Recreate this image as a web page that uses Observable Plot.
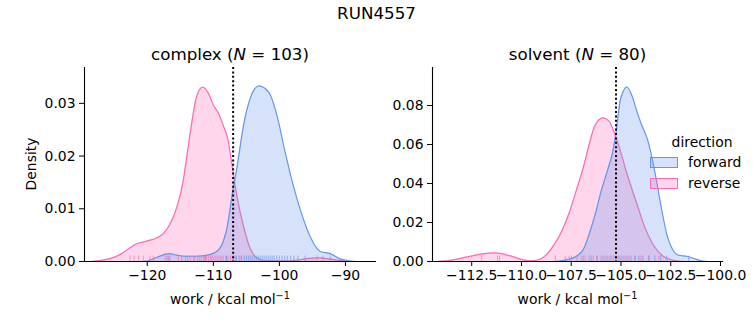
<!DOCTYPE html>
<html>
<head>
<meta charset="utf-8">
<script src="https://cdn.jsdelivr.net/npm/d3@7"></script>
<script src="https://cdn.jsdelivr.net/npm/@observablehq/plot@0.6"></script>
<style>
  body { margin: 0; background: #fff; font-family: "DejaVu Sans", sans-serif; }
  #fig { position: relative; width: 753px; height: 325px; overflow: hidden; }
  #fig svg text { font-size: 13.9px; font-family: "DejaVu Sans"; fill: #000; }
  .abs { position: absolute; white-space: nowrap; color: #000; }
  .ctr { transform: translate(-50%, -50%); }
  sup { font-size: 70%; vertical-align: 0; position: relative; top: -0.55em; }
  .sw { position: absolute; width: 26px; height: 9px; }
</style>
</head>
<body>
<div id="fig"></div>
<script>
// ---------- data ----------
const suptitle = "RUN4557";
const panelNames = ["complex", "solvent"];
const panelN = [103, 80];
const directions = ["forward", "reverse"];

// complex: KDE curve (work, density)
const complexForwardWork = [-121, -120, -118.5, -116.7, -115.5, -114.4, -112.5, -110.9, -109.3, -108.5, -107.9, -107.2, -106.4, -105.4, -104.4, -103.1, -101.6, -100.3, -99.3, -98.1, -96.8, -95.3, -93.8, -92.3, -90.8, -89.2, -88.5];
const complexForwardDensity = [0, 0.0001, 0.0008, 0.0015, 0.0012, 0.0010, 0.0010, 0.0012, 0.0021, 0.0038, 0.0065, 0.0122, 0.0180, 0.0260, 0.0310, 0.0333, 0.0321, 0.0274, 0.0217, 0.0154, 0.0097, 0.0046, 0.0019, 0.0015, 0.0005, 0.0001, 0];
const complexReverseWork = [-128.5, -127, -125.5, -124, -122.6, -121.5, -120, -118.5, -117.5, -116.4, -115.4, -114.6, -114.0, -113.3, -112.6, -111.6, -110.7, -110.0, -109.3, -108.5, -107.8, -107.2, -106.4, -105.4, -104.4, -103.3, -102, -99, -97, -95.5, -94, -92.5, -91, -89.5];
const complexReverseDensity = [0, 0.0002, 0.0006, 0.0014, 0.0026, 0.0034, 0.0039, 0.0045, 0.0054, 0.0075, 0.0108, 0.0150, 0.0200, 0.0260, 0.0310, 0.0331, 0.0318, 0.0297, 0.0283, 0.0258, 0.0232, 0.0185, 0.0122, 0.0065, 0.0024, 0.0006, 0.0001, 0.0001, 0.0003, 0.0006, 0.0007, 0.0005, 0.0002, 0];

// solvent
const solventForwardWork = [-108.3, -107.7, -107.2, -106.9, -106.6, -106.3, -106.0, -105.7, -105.4, -105.25, -105.05, -104.9, -104.7, -104.45, -104.2, -104.0, -103.65, -103.3, -103.0, -102.7, -102.4, -102.1, -101.7, -101.3, -100.9, -100.6];
const solventForwardDensity = [0, 0.001, 0.003, 0.006, 0.014, 0.024, 0.036, 0.046, 0.057, 0.066, 0.082, 0.087, 0.0895, 0.085, 0.077, 0.071, 0.062, 0.046, 0.029, 0.014, 0.006, 0.0032, 0.0027, 0.0014, 0.0002, 0];
const solventReverseWork = [-114.2, -113.6, -112.8, -112.0, -111.4, -110.9, -110.4, -109.9, -109.5, -109.1, -108.8, -108.4, -108.0, -107.6, -107.2, -106.9, -106.6, -106.3, -105.9, -105.6, -105.3, -105.1, -104.7, -104.2, -103.8, -103.3, -102.8, -102.3, -101.8];
const solventReverseDensity = [0, 0.0006, 0.0022, 0.0038, 0.0044, 0.0038, 0.0024, 0.0008, 0.0003, 0.001, 0.003, 0.008, 0.015, 0.025, 0.038, 0.048, 0.060, 0.070, 0.0737, 0.072, 0.065, 0.059, 0.045, 0.0295, 0.0175, 0.0073, 0.0022, 0.0005, 0];

// rug (individual work values, read approximately)
const complexForwardRug = [-117.0, -116.6, -111.2, -108.0, -106.9, -106.5, -106.1, -105.7, -105.3, -105.0, -104.7, -104.4, -104.1, -103.8, -103.5, -103.2, -102.9, -102.6, -102.3, -102.0, -101.7, -101.4, -101.1, -100.8, -100.4, -100.0, -99.6, -99.2, -98.8, -98.3, -97.8, -97.2, -96.1, -92.3];
const complexReverseRug = [-122.6, -122.0, -121.3, -120.6, -119.6, -119.1, -117.3, -116.8, -115.3, -114.8, -114.2, -113.9, -113.5, -113.0, -112.8, -112.4, -112.1, -111.8, -111.5, -111.3, -111.0, -110.7, -110.4, -110.2, -109.9, -109.6, -109.3, -109.0, -108.8, -108.5, -108.1, -107.8, -107.4, -107.1, -106.6, -105.8, -94.3, -93.4];
const solventForwardRug = [-107.5, -106.9, -106.5, -106.2, -105.9, -105.7, -105.5, -105.3, -105.1, -104.9, -104.7, -104.5, -104.3, -104.1, -103.9, -103.6, -103.3, -103.0, -102.7, -101.6];
const solventReverseRug = [-112.0, -111.2, -111.1, -108.3, -107.8, -107.6, -107.2, -107.0, -106.8, -106.6, -106.4, -106.2, -106.0, -105.8, -105.6, -105.4, -105.2, -105.0, -104.8, -104.6, -104.3, -104.0, -103.6, -103.1];

// dotted reference lines
const complexRefLine = -107.0;
const solventRefLine = -105.25;

// axes
const complexXDomain = [-129.5, -85.3];
const complexYDomain = [0, 0.0368];
const complexXTicks = [-120, -110, -100, -90];
const complexYTicks = [0, 0.01, 0.02, 0.03];
const solventXDomain = [-114.47, -99.85];
const solventYDomain = [0, 0.0995];
const solventXTicks = [-112.5, -110, -107.5, -105, -102.5, -100];
const solventYTicks = [0, 0.02, 0.04, 0.06, 0.08];

const xLabel = "work / kcal mol";
const yLabel = "Density";

// ---------- styles ----------
const colors = { forward: "#6495ED", reverse: "#FF69B4" };
const FONT = "DejaVu Sans";

const toRows = (xs, ys) => xs.map((x, i) => ({ x, d: ys[i] }));

function panel({ left, width, mL, mR, xDomain, yDomain, xTicks, yTicks, xFmt, curves, rugs, refLine }) {
  const rugH = yDomain[1] * 0.028;
  const marks = [];
  // reverse drawn first, forward on top (seaborn order)
  for (const dir of ["reverse", "forward"]) {
    const rows = curves[dir];
    marks.push(Plot.areaY(rows, { x: "x", y: "d", fill: colors[dir], fillOpacity: 0.27, curve: "monotone-x" }));
    marks.push(Plot.lineY(rows, { x: "x", y: "d", stroke: colors[dir], strokeWidth: 1.2, curve: "monotone-x" }));
  }
  for (const dir of ["reverse", "forward"]) {
    marks.push(Plot.ruleX(rugs[dir], { x: d => d, y1: 0, y2: rugH, stroke: colors[dir], strokeOpacity: 0.65, strokeWidth: 1 }));
  }
  marks.push(Plot.ruleX([refLine], { stroke: "black", strokeWidth: 2, strokeDasharray: "2,2.4" }));
  marks.push(Plot.ruleY([yDomain[0]], { stroke: "black", strokeWidth: 1.1 }));
  marks.push(Plot.ruleX([xDomain[0]], { stroke: "black", strokeWidth: 1.1 }));
  marks.push(Plot.axisX({ ticks: xTicks, tickFormat: xFmt, tickSize: 5, tickPadding: 4, label: null }));
  marks.push(Plot.axisY({ ticks: yTicks, tickFormat: d3.format(".2f"), tickSize: 5, tickPadding: 4, label: null }));
  const svg = Plot.plot({
    width, height: 325,
    marginLeft: mL, marginRight: mR, marginTop: 67, marginBottom: 64,
    x: { domain: xDomain },
    y: { domain: yDomain },
    style: { fontFamily: FONT, fontSize: "13.9px", color: "black", background: "transparent", overflow: "visible" },
    marks
  });
  svg.style.position = "absolute";
  svg.style.left = left + "px";
  svg.style.top = "0px";
  return svg;
}

const fig = document.getElementById("fig");

fig.appendChild(panel({
  left: 0, width: 380, mL: 84, mR: 4,
  xDomain: complexXDomain, yDomain: complexYDomain,
  xTicks: complexXTicks, yTicks: complexYTicks, xFmt: d3.format("d"),
  curves: { forward: toRows(complexForwardWork, complexForwardDensity), reverse: toRows(complexReverseWork, complexReverseDensity) },
  rugs: { forward: complexForwardRug, reverse: complexReverseRug },
  refLine: complexRefLine
}));

fig.appendChild(panel({
  left: 380, width: 373, mL: 52, mR: 30,
  xDomain: solventXDomain, yDomain: solventYDomain,
  xTicks: solventXTicks, yTicks: solventYTicks, xFmt: d3.format(".1f"),
  curves: { forward: toRows(solventForwardWork, solventForwardDensity), reverse: toRows(solventReverseWork, solventReverseDensity) },
  rugs: { forward: solventForwardRug, reverse: solventReverseRug },
  refLine: solventRefLine
}));

function addText(html, x, y, size, extra = "") {
  const el = document.createElement("div");
  el.className = "abs ctr";
  el.style.left = x + "px";
  el.style.top = y + "px";
  el.style.fontSize = size + "px";
  el.style.fontFamily = FONT;
  if (extra) el.style.cssText += extra;
  el.innerHTML = html;
  fig.appendChild(el);
  return el;
}

addText(suptitle, 376.5, 13, 16.7);
addText(`${panelNames[0]} (<i>N</i> = ${panelN[0]})`, 230, 54, 16.7);
addText(`${panelNames[1]} (<i>N</i> = ${panelN[1]})`, 577.5, 54, 16.7);
addText(`${xLabel}<sup>\u22121</sup>`, 230, 299, 13.9);
addText(`${xLabel}<sup>\u22121</sup>`, 577.5, 299, 13.9);
addText(yLabel, 31, 164, 13.9, "transform: translate(-50%, -50%) rotate(-90deg);");

// legend
addText("direction", 702, 142, 13.9);
directions.forEach((dir, i) => {
  const sw = document.createElement("div");
  sw.className = "sw";
  sw.style.left = "650px";
  sw.style.top = (157 + i * 21) + "px";
  const c = d3.color(colors[dir]);
  sw.style.background = `rgba(${c.r},${c.g},${c.b},0.27)`;
  sw.style.border = `1px solid ${colors[dir]}`;
  fig.appendChild(sw);
  const lab = document.createElement("div");
  lab.className = "abs";
  lab.style.left = "688px";
  lab.style.top = (162 + i * 21) + "px";
  lab.style.transform = "translateY(-50%)";
  lab.style.fontSize = "13.9px";
  lab.style.fontFamily = FONT;
  lab.textContent = dir;
  fig.appendChild(lab);
});
</script>
</body>
</html>
